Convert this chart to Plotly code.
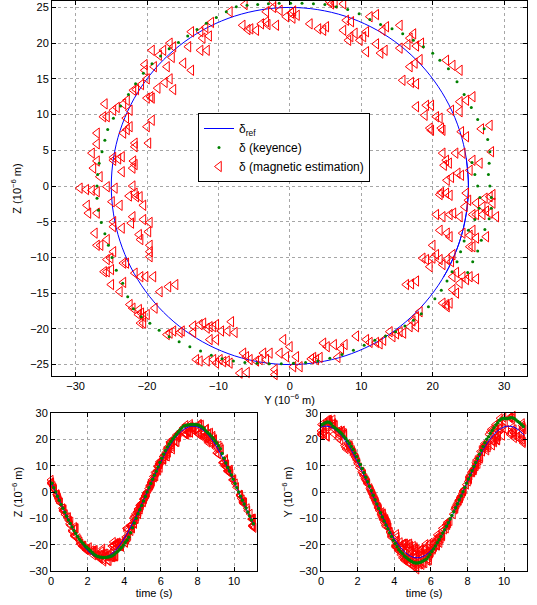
import plotly.graph_objects as go

# ---------------- reference trajectory (delta_ref) ----------------
t_ref = [0.0, 0.25, 0.5, 0.75, 1.0, 1.25, 1.5, 1.75, 2.0, 2.25, 2.5, 2.75, 3.0, 3.25, 3.5, 3.75,
         4.0, 4.25, 4.5, 4.75, 5.0, 5.25, 5.5, 5.75, 6.0, 6.25, 6.5, 6.75, 7.0, 7.25, 7.5, 7.75,
         8.0, 8.25, 8.5, 8.75, 9.0, 9.25, 9.5, 9.75, 10.0, 10.25, 10.5, 10.75, 11.0, 11.1]
y_ref = [24.69, 25.0, 24.69, 23.78, 22.28, 20.23, 17.68, 14.69, 11.35, 7.73, 3.91, 0.0, -3.91, -7.73,
         -11.35, -14.69, -17.68, -20.23, -22.28, -23.78, -24.69, -25.0, -24.69, -23.78, -22.28, -20.23,
         -17.68, -14.69, -11.35, -7.73, -3.91, 0.0, 3.91, 7.73, 11.35, 14.69, 17.68, 20.23, 22.28, 23.78,
         24.69, 25.0, 24.69, 23.78, 22.28, 21.52]
z_ref = [3.91, 0.0, -3.91, -7.73, -11.35, -14.69, -17.68, -20.23, -22.28, -23.78, -24.69, -25.0, -24.69,
         -23.78, -22.28, -20.23, -17.68, -14.69, -11.35, -7.73, -3.91, 0.0, 3.91, 7.73, 11.35, 14.69, 17.68,
         20.23, 22.28, 23.78, 24.69, 25.0, 24.69, 23.78, 22.28, 20.23, 17.68, 14.69, 11.35, 7.73, 3.91, 0.0,
         -3.91, -7.73, -11.35, -12.73]

# ---------------- keyence measurement ----------------
t_key = [round(0.05 + 0.1 * k, 2) for k in range(111)]
y_key = [25.5, 25.9, 26.3, 26.6, 26.5, 25.9, 25.0, 24.4, 23.9, 23.4,
         22.7, 22.0, 21.2, 20.3, 19.4, 18.4, 17.3, 16.1, 14.8, 13.4,
         11.9, 10.4, 8.9, 7.3, 5.6, 3.9, 2.2, 0.5, -1.2, -2.9,
         -4.6, -6.3, -7.9, -9.5, -11.0, -12.5, -14.0, -15.5, -16.9, -18.3,
         -19.6, -20.8, -21.9, -22.7, -23.4, -24.3, -24.9, -25.4, -25.9, -26.4,
         -26.8, -27.0, -27.0, -26.9, -26.7, -26.3, -25.9, -25.5, -24.7, -23.7,
         -22.6, -21.6, -20.5, -19.3, -18.1, -16.9, -15.6, -14.3, -13.0, -11.7,
         -10.3, -8.9, -7.5, -6.0, -4.5, -3.0, -1.5, 0.1, 1.7, 3.3,
         4.9, 6.5, 8.1, 9.7, 11.2, 12.7, 14.3, 15.8, 17.3, 18.7,
         20.0, 21.0, 22.2, 23.4, 24.4, 25.4, 26.3, 27.2, 27.7, 28.0,
         27.9, 27.8, 28.0, 28.2, 28.2, 27.9, 27.3, 26.8, 26.3, 25.6,
         24.9]
z_key = [3.3, 1.6, 0.0, -1.6, -3.1, -4.7, -6.2, -7.7, -9.2, -10.6,
         -12.0, -13.3, -14.6, -15.8, -16.9, -17.9, -18.8, -19.6, -20.4, -21.0,
         -21.6, -22.3, -23.0, -23.6, -24.1, -24.5, -24.7, -24.8, -24.9, -24.9,
         -24.8, -24.7, -24.5, -24.2, -23.7, -23.1, -22.5, -21.8, -21.1, -20.2,
         -19.2, -18.3, -17.2, -15.5, -13.6, -11.8, -10.0, -8.3, -6.7, -5.1,
         -3.4, -1.7, 0.0, 1.6, 3.2, 4.8, 6.4, 7.9, 9.5, 11.2,
         12.8, 14.3, 15.8, 17.1, 18.2, 19.2, 20.1, 21.0, 21.9, 22.8,
         23.6, 24.4, 25.1, 25.3, 25.4, 25.5, 25.6, 25.6, 25.6, 25.5,
         25.4, 25.1, 24.7, 24.1, 23.3, 22.6, 22.0, 21.3, 20.4, 19.5,
         18.6, 17.6, 16.4, 14.6, 12.8, 11.0, 9.3, 8.0, 6.5, 4.8,
         3.2, 1.6, 0.0, -1.6, -3.1, -4.6, -6.1, -7.6, -9.1, -10.6,
         -12.1]

# ---------------- magnetic estimation ----------------
t_mag = [0.00, 0.00, 0.02, 0.03, 0.04, 0.11, 0.15, 0.17, 0.19, 0.31, 0.32, 0.34, 0.35, 0.38, 0.40, 0.42, 0.45, 0.49, 0.49, 0.50,
         0.63, 0.65, 0.67, 0.68, 0.68, 0.71, 0.76, 0.77, 0.88, 0.95, 0.95, 1.01, 1.01, 1.06, 1.08, 1.15, 1.16, 1.26, 1.28, 1.28,
         1.29, 1.29, 1.33, 1.37, 1.47, 1.53, 1.58, 1.59, 1.63, 1.70, 1.72, 1.76, 1.79, 1.80, 1.88, 1.92, 1.95, 2.00, 2.01, 2.09,
         2.22, 2.26, 2.32, 2.32, 2.39, 2.41, 2.47, 2.51, 2.53, 2.55, 2.66, 2.69, 2.72, 2.75, 2.78, 2.82, 2.84, 2.88, 2.88, 2.94,
         2.96, 3.00, 3.02, 3.05, 3.11, 3.11, 3.15, 3.17, 3.18, 3.27, 3.30, 3.32, 3.32, 3.36, 3.38, 3.40, 3.40, 3.41, 3.45, 3.45,
         3.46, 3.51, 3.51, 3.53, 3.54, 3.54, 3.57, 3.59, 3.64, 3.67, 3.68, 3.71, 3.77, 3.77, 3.83, 3.84, 3.85, 4.05, 4.07, 4.08,
         4.08, 4.09, 4.12, 4.12, 4.13, 4.15, 4.16, 4.16, 4.20, 4.24, 4.32, 4.36, 4.36, 4.38, 4.41, 4.43, 4.45, 4.50, 4.55, 4.55,
         4.55, 4.55, 4.56, 4.56, 4.61, 4.64, 4.64, 4.68, 4.70, 4.75, 4.75, 4.77, 4.78, 4.80, 4.84, 4.86, 4.87, 4.88, 4.89, 4.89,
         4.93, 4.94, 5.03, 5.04, 5.04, 5.07, 5.10, 5.11, 5.14, 5.14, 5.15, 5.18, 5.20, 5.22, 5.22, 5.23, 5.23, 5.24, 5.25, 5.33,
         5.39, 5.39, 5.43, 5.46, 5.47, 5.48, 5.50, 5.50, 5.50, 5.51, 5.53, 5.59, 5.64, 5.67, 5.68, 5.72, 5.74, 5.78, 5.81, 5.82,
         5.83, 5.88, 5.88, 5.89, 5.92, 5.93, 5.95, 5.96, 5.98, 6.02, 6.12, 6.13, 6.14, 6.15, 6.16, 6.20, 6.26, 6.27, 6.32, 6.35,
         6.35, 6.36, 6.40, 6.41, 6.48, 6.49, 6.50, 6.56, 6.57, 6.61, 6.63, 6.64, 6.64, 6.75, 6.83, 6.84, 6.88, 6.90, 6.92, 6.96,
         6.97, 7.04, 7.22, 7.30, 7.33, 7.36, 7.36, 7.41, 7.47, 7.52, 7.53, 7.54, 7.60, 7.61, 7.62, 7.66, 7.72, 7.76, 7.78, 7.78,
         7.82, 7.94, 8.04, 8.09, 8.09, 8.11, 8.11, 8.13, 8.21, 8.27, 8.28, 8.32, 8.36, 8.36, 8.39, 8.45, 8.46, 8.48, 8.48, 8.49,
         8.57, 8.61, 8.62, 8.62, 8.70, 8.71, 8.72, 8.82, 8.84, 8.84, 8.86, 8.92, 8.93, 9.01, 9.02, 9.02, 9.05, 9.13, 9.17, 9.17,
         9.24, 9.30, 9.36, 9.40, 9.42, 9.48, 9.52, 9.53, 9.53, 9.55, 9.55, 9.57, 9.59, 9.63, 9.65, 9.67, 9.69, 9.76, 9.78, 9.79,
         9.82, 9.91, 9.95, 9.98, 10.06, 10.13, 10.32, 10.32, 10.34, 10.34, 10.38, 10.44, 10.47, 10.49, 10.51, 10.53, 10.54, 10.56, 10.57, 10.71,
         10.74, 10.87, 10.95, 10.98, 10.99, 10.99, 10.99, 11.02, 11.03, 11.04, 11.04, 11.08]
y_mag = [21.9, 23.2, 22.3, 25.6, 21.6, 25.2, 24.0, 22.6, 22.0, 24.7, 21.2, 21.0, 27.3, 25.0, 26.1, 27.0, 27.5, 26.1, 27.0, 25.6,
         25.6, 27.5, 24.2, 25.2, 26.1, 22.0, 25.6, 25.2, 22.8, 20.5, 22.6, 21.4, 23.3, 22.8, 19.6, 22.8, 23.3, 22.4, 17.7, 21.9,
         21.4, 22.0, 17.0, 16.3, 18.2, 17.7, 17.2, 17.7, 16.8, 15.9, 15.4, 14.9, 14.0, 14.4, 13.1, 12.6, 12.1, 11.2, 10.7, 9.3,
         7.7, 7.2, 6.2, 6.7, 5.2, 4.7, 4.2, 3.7, 3.3, 3.0, 1.4, 0.9, 0.5, 0.0, -0.5, -0.9, -1.4, -2.1, -2.1, -2.8,
         -3.3, -3.7, -4.2, -4.7, -5.6, -6.0, -6.1, -7.0, -6.5, -8.4, -8.8, -9.3, -7.7, -9.8, -10.3, -8.2, -8.7, -10.7, -11.6, -9.6,
         -10.3, -12.6, -11.2, -10.3, -10.7, -13.1, -11.2, -11.6, -12.1, -12.6, -13.5, -13.5, -15.1, -15.4, -16.3, -16.8, -17.2, -20.5, -20.9, -20.0,
         -18.9, -20.5, -20.8, -16.0, -21.2, -17.0, -21.1, -18.2, -22.0, -22.4, -19.1, -20.2, -23.8, -20.9, -23.3, -21.7, -25.0, -19.6, -19.6, -22.9,
         -25.6, -25.0, -23.3, -26.0, -19.6, -25.6, -25.1, -24.7, -20.9, -19.8, -21.1, -26.5, -27.0, -25.6, -19.6, -23.5, -27.3, -22.2, -20.5, -24.7,
         -24.7, -22.0, -27.0, -28.2, -20.5, -23.8, -28.4, -24.9, -21.5, -21.0, -22.5, -21.7, -27.0, -28.5, -27.7, -29.4, -24.5, -25.6, -22.0, -26.6,
         -27.5, -23.5, -22.0, -27.0, -21.7, -24.7, -24.0, -24.7, -21.9, -27.7, -23.5, -27.0, -21.7, -27.0, -21.7, -19.8, -23.3, -22.8, -22.4, -26.1,
         -25.6, -22.9, -20.0, -24.7, -25.9, -24.2, -22.4, -19.3, -23.3, -22.8, -21.9, -20.0, -21.5, -19.3, -19.5, -20.8, -18.5, -20.0, -20.3, -17.5,
         -16.3, -20.3, -19.0, -16.8, -17.2, -19.3, -18.3, -17.7, -16.5, -14.9, -13.8, -16.3, -16.8, -14.2, -12.5, -13.8, -11.6, -12.2, -12.5, -11.3,
         -11.8, -11.0, -8.4, -6.6, -5.9, -6.3, -5.5, -4.7, -4.0, -3.3, -3.1, -3.3, -2.3, -2.3, -1.9, -1.4, -0.5, 0.2, 0.5, 0.4,
         1.0, 2.8, 4.0, 4.7, 5.6, 5.1, 5.8, 6.3, 7.5, 7.9, 7.5, 8.6, 8.5, 8.2, 9.1, 11.2, 9.8, 10.7, 10.3, 12.1,
         10.7, 13.0, 13.5, 12.1, 12.7, 15.4, 13.3, 15.4, 16.8, 17.3, 16.5, 17.7, 18.4, 16.8, 17.5, 18.2, 15.8, 17.0, 17.7, 21.9,
         22.8, 23.8, 17.7, 19.1, 19.8, 18.9, 23.8, 24.7, 25.6, 20.5, 22.6, 21.0, 23.8, 19.6, 19.8, 21.2, 21.4, 24.0, 28.0, 26.8,
         24.7, 21.4, 24.2, 28.2, 26.6, 23.5, 21.9, 28.4, 22.4, 28.0, 28.4, 24.5, 28.0, 28.9, 22.9, 22.4, 23.8, 20.5, 21.4, 21.0,
         22.4, 20.0, 22.0, 21.0, 20.0, 25.2, 26.1, 24.2, 24.7, 18.6, 19.1, 23.8]
z_mag = [3.6, 4.6, 3.2, 3.6, 2.9, 2.2, 1.5, 1.2, 0.8, -1.0, -0.9, -1.2, -1.7, -2.0, -2.4, -2.9, -3.5, -4.0, -4.0, -4.0,
         -6.2, -7.1, -6.6, -6.9, -7.3, -6.6, -8.5, -8.5, -9.6, -9.6, -10.6, -11.0, -12.1, -12.7, -11.3, -14.5, -15.0, -16.4, -13.3, -16.6,
         -16.4, -16.9, -13.7, -13.8, -17.6, -18.3, -18.9, -19.7, -19.7, -20.6, -20.4, -20.7, -20.4, -21.1, -21.6, -22.1, -21.9, -21.9, -21.5, -21.0,
         -22.2, -22.8, -22.2, -24.0, -22.5, -22.0, -24.0, -24.3, -24.0, -24.2, -25.3, -23.9, -25.3, -22.5, -23.9, -21.5, -23.4, -25.7, -26.4, -23.4,
         -24.3, -23.4, -24.3, -24.5, -24.3, -26.1, -23.9, -26.2, -23.4, -24.8, -24.5, -24.6, -20.5, -24.3, -24.8, -19.0, -20.3, -24.3, -24.5, -20.3,
         -21.5, -24.5, -21.5, -19.4, -19.7, -24.3, -19.7, -19.9, -19.2, -19.4, -20.5, -19.6, -20.3, -20.5, -20.3, -20.6, -20.8, -19.2, -19.2, -18.0,
         -17.1, -18.3, -17.8, -13.8, -18.0, -14.1, -17.3, -14.8, -17.1, -16.6, -12.7, -12.7, -14.8, -12.7, -13.5, -12.2, -13.8, -9.9, -9.2, -10.8,
         -12.0, -11.7, -10.8, -12.0, -8.3, -10.3, -10.1, -9.2, -7.5, -6.4, -6.8, -8.3, -8.3, -7.5, -5.1, -5.9, -6.6, -5.2, -4.7, -5.7,
         -5.0, -4.3, -3.8, -3.8, -2.7, -2.7, -2.7, -2.2, -1.5, -1.5, -1.4, -1.0, -0.8, -0.5, -0.6, -0.3, -0.3, -0.1, 0.0, 1.3,
         2.5, 2.0, 2.5, 3.5, 3.0, 3.6, 3.8, 4.0, 3.5, 4.6, 4.1, 5.9, 5.5, 7.4, 6.0, 6.0, 7.4, 7.9, 8.3, 9.7,
         9.7, 9.5, 8.3, 10.6, 11.5, 11.0, 10.6, 9.2, 11.5, 12.0, 13.4, 12.3, 13.5, 12.3, 12.5, 14.2, 13.7, 15.0, 16.2, 14.5,
         13.5, 17.0, 16.7, 15.0, 16.7, 19.0, 18.3, 19.0, 18.0, 17.2, 16.2, 19.5, 20.0, 19.5, 19.0, 21.6, 19.0, 20.7, 21.6, 21.0,
         22.2, 22.9, 24.4, 22.5, 21.9, 25.4, 22.0, 21.8, 22.7, 23.0, 22.6, 24.4, 25.0, 25.8, 22.5, 24.6, 23.7, 24.2, 24.5, 23.5,
         23.9, 22.7, 22.0, 21.8, 25.8, 22.3, 25.5, 25.6, 25.5, 23.2, 21.8, 23.0, 20.9, 20.4, 21.4, 23.7, 20.4, 21.6, 20.9, 24.0,
         18.8, 21.8, 22.3, 19.9, 18.6, 22.5, 19.0, 19.3, 20.7, 21.3, 19.8, 19.6, 20.0, 16.7, 17.2, 17.7, 14.8, 14.5, 14.3, 17.6,
         16.9, 16.2, 11.1, 11.3, 11.3, 9.9, 11.8, 12.0, 12.5, 9.7, 10.6, 9.5, 10.4, 8.1, 7.8, 8.1, 7.8, 7.6, 8.5, 8.0,
         6.9, 4.6, 4.6, 4.8, 3.2, 1.8, -1.0, -1.2, -1.3, -1.5, -2.4, -2.9, -3.8, -4.3, -3.8, -4.0, -4.3, -4.0, -4.3, -6.2,
         -7.1, -8.3, -10.3, -10.3, -10.1, -12.7, -13.0, -12.7, -13.1, -10.1, -10.3, -13.6]

assert len(t_mag) == len(y_mag) == len(z_mag)
assert len(t_key) == len(y_key) == len(z_key)

# ---------------- styling ----------------
W, H = 537, 605
BLUE, GREEN, RED = "#0000ff", "#008000", "#ff0000"
FONT = "Liberation Sans, Arial, Helvetica, sans-serif"


def px_x(p):
    return p / W


def px_y(p):
    return 1 - p / H


ref_line = dict(color=BLUE, width=1, shape="spline", smoothing=1.0)
key_marker_top = dict(color=GREEN, size=3)
key_marker_bot = dict(color=GREEN, size=3.5)
mag_marker = dict(symbol="triangle-left-open", color=RED, size=9, line=dict(width=1, color=RED))
mag_marker_bot = dict(symbol="triangle-left-open", color=RED, size=8, line=dict(width=1, color=RED))

fig = go.Figure()

# top: Z vs Y  (magnetic first so keyence dots sit on top; legend order via legendrank)
fig.add_trace(go.Scatter(x=y_ref, y=z_ref, mode="lines", line=ref_line, legendrank=1,
                         name="δ<sub>ref</sub>", xaxis="x", yaxis="y"))
fig.add_trace(go.Scatter(x=y_mag, y=z_mag, mode="markers", marker=mag_marker, cliponaxis=False,
                         legendrank=3, name="δ (magnetic estimation)", xaxis="x", yaxis="y"))
fig.add_trace(go.Scatter(x=y_key, y=z_key, mode="markers", marker=key_marker_top, legendrank=2,
                         name="δ (keyence)", xaxis="x", yaxis="y"))

# bottom-left: Z vs time
fig.add_trace(go.Scatter(x=t_mag, y=z_mag, mode="markers", marker=mag_marker_bot, cliponaxis=False,
                         showlegend=False, xaxis="x2", yaxis="y2"))
fig.add_trace(go.Scatter(x=t_ref, y=z_ref, mode="lines", line=ref_line, showlegend=False,
                         xaxis="x2", yaxis="y2"))
fig.add_trace(go.Scatter(x=t_key, y=z_key, mode="markers", marker=key_marker_bot, showlegend=False,
                         xaxis="x2", yaxis="y2"))

# bottom-right: Y vs time
fig.add_trace(go.Scatter(x=t_mag, y=y_mag, mode="markers", marker=mag_marker_bot, cliponaxis=False,
                         showlegend=False, xaxis="x3", yaxis="y3"))
fig.add_trace(go.Scatter(x=t_ref, y=y_ref, mode="lines", line=ref_line, showlegend=False,
                         xaxis="x3", yaxis="y3"))
fig.add_trace(go.Scatter(x=t_key, y=y_key, mode="markers", marker=key_marker_bot, showlegend=False,
                         xaxis="x3", yaxis="y3"))

axis_style = dict(
    showline=True, linecolor="black", linewidth=1, mirror="ticks",
    ticks="inside", ticklen=4, tickcolor="black", tickwidth=1,
    showgrid=True, gridcolor="#a6a6a6", griddash="dot", gridwidth=1,
    zeroline=False, automargin=False,
    tickfont=dict(family=FONT, size=11, color="black"),
)
title_font = dict(family=FONT, size=11, color="black")
unit = "(10<sup>−6</sup> m)"

fig.update_layout(
    width=W, height=H,
    margin=dict(l=0, r=0, t=0, b=0, autoexpand=False),
    paper_bgcolor="white", plot_bgcolor="white",
    font=dict(family=FONT, size=11, color="black"),
    hovermode=False,
    xaxis=dict(axis_style, domain=[px_x(52), px_x(527)], range=[-33.3, 33.2], anchor="y",
               tickvals=[-30, -20, -10, 0, 10, 20, 30],
               title=dict(text="Y " + unit, font=title_font, standoff=2)),
    yaxis=dict(axis_style, domain=[px_y(376), px_y(1)], range=[-26.6, 25.9], anchor="x",
               tickvals=[-25, -20, -15, -10, -5, 0, 5, 10, 15, 20, 25],
               title=dict(text="Z " + unit, font=title_font, standoff=6)),
    xaxis2=dict(axis_style, domain=[px_x(51), px_x(257)], range=[0, 11.25], anchor="y2",
                tickvals=[0, 2, 4, 6, 8, 10],
                title=dict(text="time (s)", font=title_font, standoff=2)),
    yaxis2=dict(axis_style, domain=[px_y(571), px_y(413)], range=[-30, 30], anchor="x2",
                tickvals=[-30, -20, -10, 0, 10, 20, 30],
                title=dict(text="Z " + unit, font=title_font, standoff=4)),
    xaxis3=dict(axis_style, domain=[px_x(321), px_x(527)], range=[0, 11.25], anchor="y3",
                tickvals=[0, 2, 4, 6, 8, 10],
                title=dict(text="time (s)", font=title_font, standoff=2)),
    yaxis3=dict(axis_style, domain=[px_y(571), px_y(413)], range=[-30, 30], anchor="x3",
                tickvals=[-30, -20, -10, 0, 10, 20, 30],
                title=dict(text="Y " + unit, font=title_font, standoff=4)),
    legend=dict(x=px_x(198), y=px_y(113), xanchor="left", yanchor="top",
                bgcolor="white", bordercolor="black", borderwidth=1,
                font=dict(family=FONT, size=12, color="black"),
                tracegroupgap=0, itemwidth=30),
    showlegend=True,
)

fig.write_html("out.html", config={"displayModeBar": False, "staticPlot": True},
               post_script="document.body.style.margin='0px';")
